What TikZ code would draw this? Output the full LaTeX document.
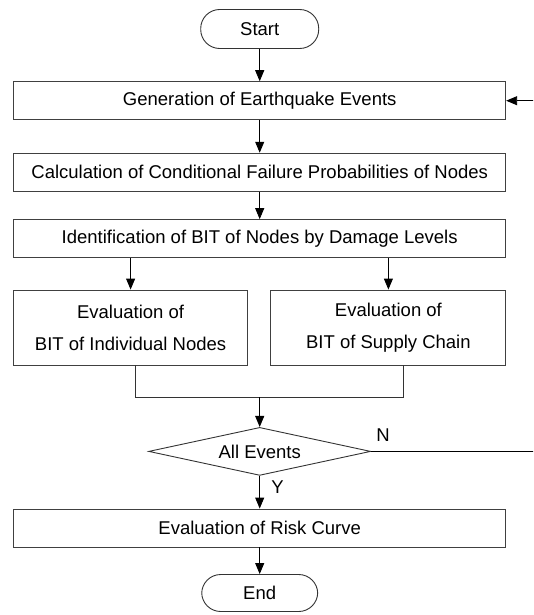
\documentclass[tikz,border=0pt]{standalone}
\usepackage{fontspec}
\setmainfont{Liberation Sans}
\usepackage{tikz}
\usetikzlibrary{arrows.meta,shapes.geometric}

\tikzset{
  every node/.style={font=\fontsize{18.5}{32}\selectfont},
  procbox/.style={draw=black!75,line width=0.9pt,minimum height=38pt,inner sep=0pt,align=center},
  termbox/.style={draw=black!80,line width=0.9pt,rounded corners=19pt,minimum width=118pt,minimum height=39pt,inner sep=0pt},
  decbox/.style={draw=black!80,line width=0.9pt,diamond,aspect=4.6,minimum width=222pt,minimum height=48pt,inner sep=0pt},
  flow/.style={line width=0.9pt,-{Triangle[length=11pt,width=9pt]}}
}

\begin{document}
\begin{tikzpicture}[x=1pt,y=-1pt]
  \useasboundingbox (0,0) rectangle (533,615);
  \clip (0,0) rectangle (533,615);
  % Main chain
  \node[termbox] (start) at (259.7,29) {Start};
  \node[procbox,minimum width=492pt] (gen) at (259.7,100.7) {Generation of Earthquake Events};
  \node[procbox,minimum width=492pt] (calc) at (259.7,172.2) {Calculation of Conditional Failure Probabilities of Nodes};
  \node[procbox,minimum width=492pt] (ident) at (259.7,238.6) {Identification of BIT of Nodes by Damage Levels};
  % Two evaluations
  \node[procbox,minimum width=234pt,minimum height=75pt] (evind) at (130.6,327.5) {Evaluation of\\BIT of Individual Nodes};
  \node[procbox,minimum width=235pt,minimum height=75pt] (evsup) at (388.4,327.5) {Evaluation of\\BIT of Supply Chain};
  \node[decbox] (chk) at (259.7,451.4) {All Events};
  \node[procbox,minimum width=492pt] (risk) at (259.7,528) {Evaluation of Risk Curve};
  \node[termbox,minimum width=116pt,minimum height=37pt] (stop) at (259.7,593) {End};
  \coordinate (mrg) at (259.7,397.3);
  \coordinate (loop) at (545,451.4);
  % Connectors
  \draw[flow] (start) -- (gen);
  \draw[flow] (gen) -- (calc);
  \draw[flow] (calc) -- (ident);
  \draw[flow] (ident.south -| evind) -- (evind);
  \draw[flow] (ident.south -| evsup) -- (evsup);
  \draw[line width=0.9pt,black!80] ([xshift=5pt]evind.south) |- (mrg) -| ([xshift=15pt]evsup.south);
  \draw[flow] (mrg) -- (chk);
  \draw[flow] (chk) -- node[right=8pt,pos=0.35] (ylab) {Y} (risk);
  \draw[flow] (risk) -- (stop);
  % Loop back on N
  \draw[flow] (chk.east) -- (loop) |- (gen.east);
  \node (nlab) at (383,435) {N};
\end{tikzpicture}
\end{document}
